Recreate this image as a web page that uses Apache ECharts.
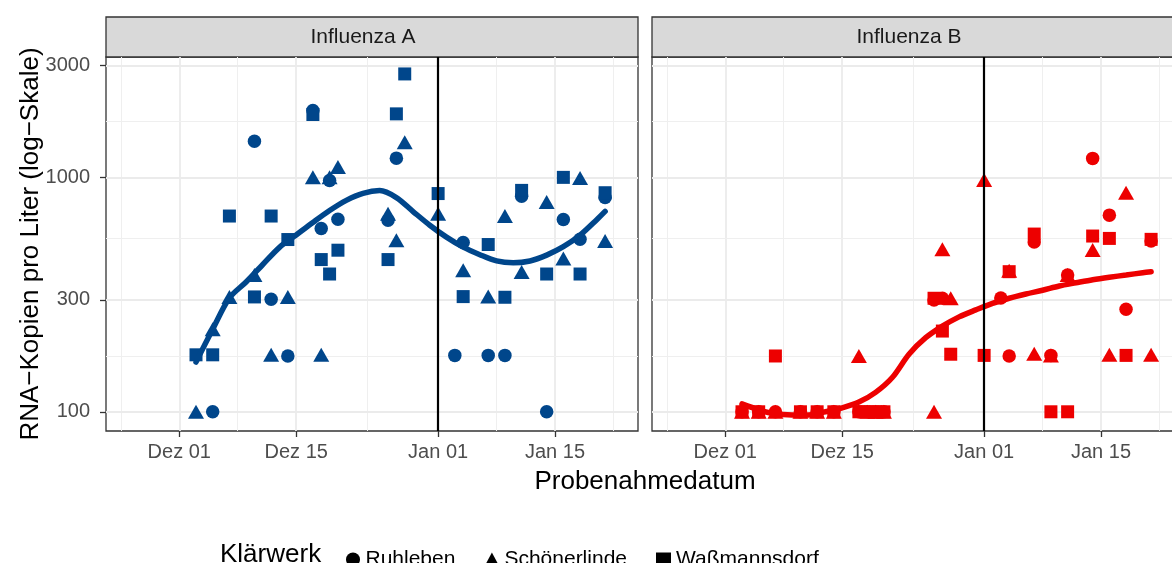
<!DOCTYPE html>
<html>
<head>
<meta charset="UTF-8"/>
<title>Influenza im Abwasser Berlin</title>
<script src="https://cdn.jsdelivr.net/npm/echarts@6.0.0/dist/echarts.min.js"></script>
<style>
html, body { margin: 0; padding: 0; background: #fff; }
#chart { width: 1172px; height: 563px; }
</style>
</head>
<body>
<div id="chart"></div>
<script type="text/javascript">
// Probenahmetage (alle Klärwerke)
var dates = ['2022-12-03','2022-12-05','2022-12-07','2022-12-10','2022-12-12','2022-12-14',
  '2022-12-17','2022-12-18','2022-12-19','2022-12-20','2022-12-26','2022-12-27','2022-12-28',
  '2023-01-01','2023-01-03','2023-01-04','2023-01-07','2023-01-09','2023-01-11','2023-01-14',
  '2023-01-16','2023-01-18','2023-01-21'];

// Influenza A, RNA-Kopien pro Liter
var aRuhleben      = [null,100,null,1427,302,173,1928,605,970,663,656,1208,null,null,174,527,174,174,830,100,661,545,820];
var aSchoenerlinde = [100,225,309,383,175,309,1000,175,1000,1106,700,539,1413,700,null,402,310,684,395,785,451,993,535];
var aWassmannsdorf = [175,175,684,309,684,543,1854,446,387,489,446,1866,2762,853,null,310,517,308,880,387,1000,387,860];

// Influenza B
var bRuhleben      = [100,100,100,100,100,100,100,100,100,100,300,305,null,null,306,173,530,174,383,1205,690,274,535];
var bSchoenerlinde = [100,100,100,100,100,100,173,100,100,100,100,493,305,975,null,400,177,174,383,490,175,860,175];
var bWassmannsdorf = [100,100,173,100,100,100,100,100,100,100,305,221,176,174,null,396,573,100,100,562,549,174,544];

// Glättungskurven
var trendDates = ['2022-12-03','2022-12-05','2022-12-07','2022-12-09','2022-12-11','2022-12-13',
  '2022-12-15','2022-12-17','2022-12-19','2022-12-21','2022-12-23','2022-12-25','2022-12-27',
  '2022-12-29','2022-12-31','2023-01-02','2023-01-04','2023-01-06','2023-01-08','2023-01-10',
  '2023-01-12','2023-01-14','2023-01-16','2023-01-18','2023-01-20','2023-01-21'];
var trendA = [163,225,306,358,425,503,568,642,722,798,855,878,820,715,625,556,504,468,440,432,440,466,506,567,660,716];
var trendB = [108,102,98,97,97,100,104,110,121,140,176,207,232,254,272,290,305,318,330,344,355,366,375,383,392,396];

// Achsen
var xTickDates  = ['2022-12-01','2022-12-15','2023-01-01','2023-01-15'];
var xTickLabels = ['Dez 01','Dez 15','Jan 01','Jan 15'];
var yTicks = [100, 300, 1000, 3000];
var markerDate = '2023-01-01';

var plants = ['Ruhleben', 'Schönerlinde', 'Waßmannsdorf'];
var FONT = '"Liberation Sans", Arial, Helvetica, sans-serif';

function dayOf(s) {
  var p = s.split('-');
  return (Date.UTC(+p[0], +p[1] - 1, +p[2]) - Date.UTC(2022, 11, 1)) / 864e5;
}

var xTicks = xTickDates.map(dayOf);
// Nebengitter wie bei ggplot: Mitte zwischen den Hauptmarken
var xMinor = [xTicks[0] - (xTicks[1] - xTicks[0]) / 2];
for (var i = 0; i < xTicks.length - 1; i++) xMinor.push((xTicks[i] + xTicks[i + 1]) / 2);
xMinor.push(xTicks[xTicks.length - 1] + (xTicks[xTicks.length - 1] - xTicks[xTicks.length - 2]) / 2);
var yMinor = [];
for (var j = 0; j < yTicks.length - 1; j++) yMinor.push(Math.sqrt(yTicks[j] * yTicks[j + 1]));

var X_MIN = -8.78, X_MAX = 54.94, Y_MIN = 82.8, Y_MAX = 3262;

var panels = [
  { title: 'Influenza A', color: '#00468B', left: 106, textX: 363, values: [aRuhleben, aSchoenerlinde, aWassmannsdorf], trend: trendA },
  { title: 'Influenza B', color: '#ED0000', left: 652, textX: 909, values: [bRuhleben, bSchoenerlinde, bWassmannsdorf], trend: trendB }
];
var symbols = ['circle', 'triangle', 'rect'];
var symbolSizes = [13.5, [16, 14], 13];

function pairs(ds, vals) {
  var out = [];
  for (var k = 0; k < ds.length; k++) {
    if (vals[k] != null) out.push([dayOf(ds[k]), vals[k]]);
  }
  return out;
}

var grids = [], xAxes = [], yAxes = [], series = [], graphics = [];

panels.forEach(function (p, idx) {
  grids.push({ left: p.left, top: 57, width: 532, height: 374, show: true, outerBoundsMode: 'none',
    containLabel: false, backgroundColor: '#fff', borderColor: '#333333', borderWidth: 1.3 });

  xAxes.push({
    type: 'value', gridIndex: idx, min: X_MIN, max: X_MAX, position: 'bottom',
    axisLine: { show: false, onZero: false }, splitLine: { show: false },
    axisTick: { show: true, length: 6, customValues: xTicks, lineStyle: { color: '#333333', width: 1.3 } },
    axisLabel: { show: true, customValues: xTicks, margin: 11, fontSize: 20, color: '#4D4D4D', fontFamily: FONT,
      formatter: function (v) {
        for (var k = 0; k < xTicks.length; k++) if (Math.abs(xTicks[k] - v) < 0.01) return xTickLabels[k];
        return '';
      } }
  });

  yAxes.push({
    type: 'log', logBase: 10, gridIndex: idx, min: Y_MIN, max: Y_MAX, position: 'left',
    axisLine: { show: false, onZero: false }, splitLine: { show: false },
    axisTick: { show: idx === 0, length: 6, customValues: yTicks, lineStyle: { color: '#333333', width: 1.3 } },
    axisLabel: { show: idx === 0, customValues: yTicks, margin: 16, fontSize: 20, color: '#4D4D4D', fontFamily: FONT,
      formatter: function (v) { return String(Math.round(v)); } }
  });

  // Gitterlinien
  var gridLines = [];
  xTicks.forEach(function (d) { gridLines.push({ xAxis: d, lineStyle: { color: '#EBEBEB', width: 1.8, type: 'solid' } }); });
  xMinor.forEach(function (d) { gridLines.push({ xAxis: d, lineStyle: { color: '#EFEFEF', width: 1, type: 'solid' } }); });
  yTicks.forEach(function (v) { gridLines.push({ yAxis: v, lineStyle: { color: '#EBEBEB', width: 1.8, type: 'solid' } }); });
  yMinor.forEach(function (v) { gridLines.push({ yAxis: v, lineStyle: { color: '#EFEFEF', width: 1, type: 'solid' } }); });

  series.push({
    type: 'line', name: 'grid' + idx, xAxisIndex: idx, yAxisIndex: idx, data: [], silent: true, z: 1,
    markLine: { silent: true, symbol: 'none', z: 1, animation: false, label: { show: false },
      emphasis: { disabled: true }, data: gridLines }
  });

  p.values.forEach(function (vals, k) {
    series.push({
      type: 'scatter', name: plants[k], xAxisIndex: idx, yAxisIndex: idx, z: 3,
      symbol: symbols[k], symbolSize: symbolSizes[k],
      itemStyle: { color: p.color, opacity: 1 },
      data: pairs(dates, vals)
    });
  });

  series.push({
    type: 'line', name: 'Trend ' + p.title, xAxisIndex: idx, yAxisIndex: idx, z: 4,
    smooth: 0.3, showSymbol: false, silent: true,
    lineStyle: { color: p.color, width: 5.5, cap: 'round' },
    data: pairs(trendDates, p.trend),
    markLine: { silent: true, symbol: 'none', z: 6, animation: false, label: { show: false },
      emphasis: { disabled: true },
      data: [{ xAxis: dayOf(markerDate), lineStyle: { color: '#000', width: 2.2, type: 'solid' } }] }
  });

  // Streifen mit Facettentitel
  graphics.push({ type: 'rect', shape: { x: p.left, y: 17, width: 532, height: 40 },
    style: { fill: '#D9D9D9', stroke: '#333333', lineWidth: 1.3 } });
  graphics.push({ type: 'text', x: p.textX, y: 37,
    style: { text: p.title, fill: '#1A1A1A', font: '21px ' + FONT, textAlign: 'center', textVerticalAlign: 'middle' } });
});

graphics.push({ type: 'text', x: 31, y: 244, rotation: Math.PI / 2,
  style: { text: 'RNA−Kopien pro Liter (log−Skale)', fill: '#000', font: '26px ' + FONT, textAlign: 'center', textVerticalAlign: 'middle' } });
graphics.push({ type: 'text', x: 645, y: 482,
  style: { text: 'Probenahmedatum', fill: '#000', font: '26px ' + FONT, textAlign: 'center', textVerticalAlign: 'middle' } });
graphics.push({ type: 'text', x: 220, y: 555,
  style: { text: 'Klärwerk', fill: '#000', font: '26px ' + FONT, textAlign: 'left', textVerticalAlign: 'middle' } });

var chart = echarts.init(document.getElementById('chart'));
var option = {
  animation: false,
  backgroundColor: '#fff',
  grid: grids,
  xAxis: xAxes,
  yAxis: yAxes,
  legend: {
    left: 341, top: 544, itemWidth: 15, itemHeight: 14, itemGap: 29, selectedMode: false,
    textStyle: { fontSize: 21, color: '#000', fontFamily: FONT },
    data: plants.map(function (n, k) { return { name: n, icon: symbols[k], itemStyle: { color: '#000' } }; })
  },
  graphic: graphics,
  series: series
};
chart.setOption(option);
</script>
</body>
</html>
